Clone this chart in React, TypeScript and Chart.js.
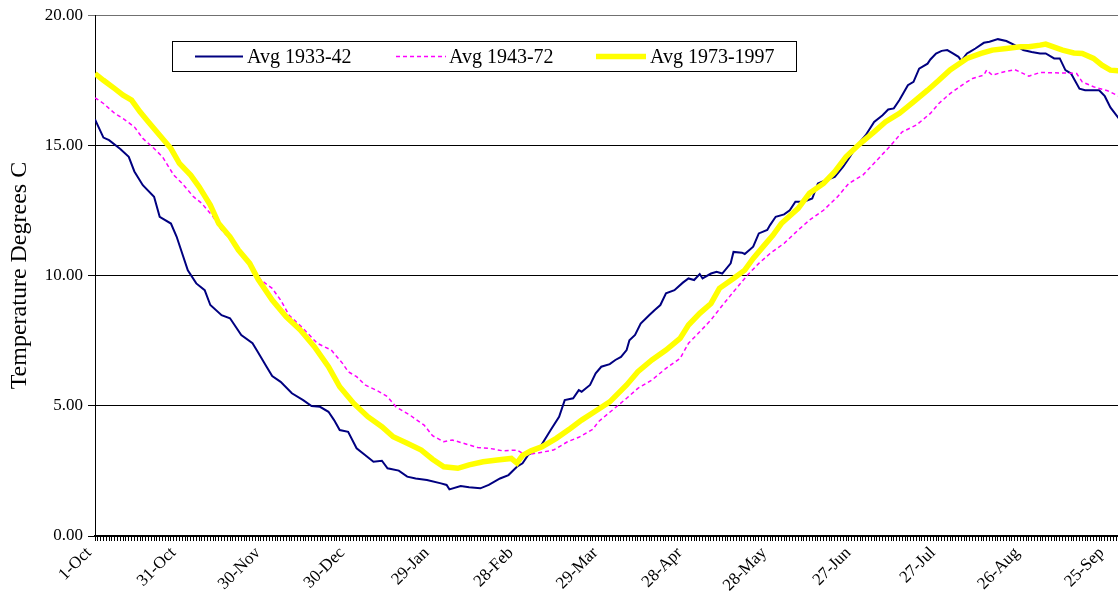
import React, { useEffect, useRef } from "react";
import { Chart, registerables } from "chart.js";

Chart.register(...registerables);

const FONT = "'Liberation Serif', 'Times New Roman', Times, serif";

const tickLabels = ["1-Oct", "31-Oct", "30-Nov", "30-Dec", "29-Jan", "28-Feb", "29-Mar", "28-Apr", "28-May", "27-Jun", "27-Jul", "26-Aug", "25-Sep"];
const seriesNames = ["Avg 1933-42", "Avg 1943-72", "Avg 1973-1997"];
const yTitle = "Temperature Degrees C";

// day index from 1-Oct (0) to 30-Sep (365)
const days1933 = [0, 3, 5, 9, 12, 14, 17, 21, 23, 27, 29, 33, 36, 39, 41, 45, 48, 52, 56, 58, 61, 63, 66, 70, 74, 77, 80, 83, 85, 87, 90, 93, 96, 99, 102, 104, 108, 111, 114, 118, 123, 125, 126, 130, 133, 137, 140, 144, 147, 150, 152, 154, 158, 162, 165, 167, 170, 172, 173, 176, 178, 180, 183, 185, 187, 189, 190, 192, 194, 197, 199, 201, 203, 206, 209, 211, 213, 215, 216, 219, 221, 223, 226, 227, 230, 231, 234, 236, 239, 240, 242, 245, 247, 249, 252, 255, 257, 260, 263, 266, 268, 271, 274, 277, 280, 282, 284, 286, 289, 291, 293, 296, 297, 299, 301, 303, 305, 307, 308, 310, 311, 313, 316, 318, 321, 324, 327, 330, 333, 336, 338, 341, 343, 345, 347, 350, 352, 357, 359, 361, 364];
const temps1933 = [16.0, 15.3, 15.2, 14.86, 14.56, 14.0, 13.47, 13.03, 12.26, 12.0, 11.5, 10.2, 9.7, 9.44, 8.87, 8.48, 8.36, 7.72, 7.4, 7.05, 6.5, 6.14, 5.92, 5.48, 5.22, 4.99, 4.96, 4.77, 4.45, 4.07, 4.0, 3.37, 3.11, 2.85, 2.89, 2.6, 2.51, 2.28, 2.21, 2.15, 2.02, 1.96, 1.79, 1.92, 1.87, 1.83, 1.96, 2.21, 2.34, 2.66, 2.79, 3.11, 3.37, 4.07, 4.58, 5.22, 5.29, 5.6, 5.54, 5.8, 6.25, 6.5, 6.6, 6.76, 6.88, 7.14, 7.52, 7.72, 8.16, 8.48, 8.68, 8.87, 9.32, 9.44, 9.73, 9.89, 9.83, 10.06, 9.89, 10.08, 10.15, 10.08, 10.47, 10.91, 10.88, 10.83, 11.11, 11.62, 11.75, 11.94, 12.26, 12.35, 12.51, 12.84, 12.84, 12.96, 13.54, 13.67, 13.79, 14.18, 14.5, 15.01, 15.39, 15.9, 16.16, 16.38, 16.42, 16.74, 17.31, 17.44, 17.95, 18.14, 18.3, 18.53, 18.63, 18.66, 18.53, 18.4, 18.25, 18.53, 18.59, 18.72, 18.94, 18.98, 19.08, 19.01, 18.85, 18.66, 18.59, 18.53, 18.53, 18.34, 18.34, 17.89, 17.76, 17.18, 17.12, 17.12, 16.89, 16.46, 16.03];

const days1943 = [0, 3, 7, 10, 14, 17, 21, 24, 28, 31, 35, 38, 42, 45, 49, 52, 56, 59, 63, 66, 69, 74, 79, 84, 88, 90, 93, 96, 100, 104, 107, 112, 117, 120, 124, 127, 131, 136, 140, 145, 150, 153, 158, 163, 168, 172, 177, 179, 184, 189, 193, 198, 203, 208, 211, 215, 219, 223, 227, 232, 236, 240, 245, 250, 254, 259, 264, 268, 273, 278, 283, 287, 292, 297, 300, 304, 309, 312, 316, 317, 319, 323, 327, 332, 336, 340, 345, 349, 351, 355, 360, 364];
const temps1943 = [16.83, 16.61, 16.23, 16.03, 15.71, 15.27, 14.88, 14.56, 13.86, 13.54, 13.03, 12.77, 12.26, 11.75, 11.3, 10.85, 10.34, 9.83, 9.51, 9.06, 8.48, 7.97, 7.4, 7.14, 6.63, 6.31, 6.12, 5.8, 5.6, 5.35, 4.96, 4.64, 4.26, 3.85, 3.62, 3.69, 3.56, 3.4, 3.37, 3.27, 3.3, 3.11, 3.2, 3.3, 3.62, 3.79, 4.1, 4.39, 4.84, 5.29, 5.67, 5.99, 6.44, 6.82, 7.4, 7.84, 8.3, 8.85, 9.38, 10.02, 10.47, 10.85, 11.24, 11.75, 12.13, 12.51, 13.03, 13.54, 13.86, 14.43, 15.01, 15.52, 15.78, 16.23, 16.61, 16.99, 17.37, 17.57, 17.7, 17.89, 17.7, 17.82, 17.91, 17.66, 17.8, 17.79, 17.78, 17.76, 17.44, 17.25, 17.1, 16.89];

const days1973 = [0, 3, 7, 10, 13, 16, 19, 23, 27, 30, 34, 37, 41, 44, 48, 51, 55, 58, 63, 68, 73, 78, 83, 87, 92, 97, 102, 106, 111, 116, 120, 124, 129, 133, 138, 143, 148, 150, 152, 155, 159, 164, 169, 173, 178, 183, 189, 193, 198, 203, 208, 211, 215, 219, 222, 227, 231, 234, 238, 241, 244, 250, 254, 259, 263, 267, 272, 277, 281, 286, 291, 296, 300, 304, 310, 315, 319, 324, 329, 332, 336, 338, 340, 344, 348, 351, 355, 358, 361, 364];
const temps1973 = [17.76, 17.5, 17.18, 16.93, 16.74, 16.29, 15.9, 15.39, 14.88, 14.31, 13.86, 13.41, 12.71, 12.0, 11.49, 10.98, 10.47, 9.86, 9.06, 8.42, 7.91, 7.27, 6.5, 5.73, 5.09, 4.58, 4.2, 3.81, 3.56, 3.3, 2.95, 2.66, 2.6, 2.73, 2.85, 2.92, 2.98, 2.8, 3.1, 3.27, 3.43, 3.75, 4.13, 4.45, 4.8, 5.15, 5.8, 6.31, 6.76, 7.14, 7.59, 8.1, 8.55, 8.93, 9.51, 9.89, 10.21, 10.66, 11.17, 11.55, 12.0, 12.58, 13.16, 13.54, 13.99, 14.56, 15.07, 15.52, 15.9, 16.23, 16.67, 17.12, 17.5, 17.9, 18.34, 18.53, 18.66, 18.72, 18.79, 18.79, 18.85, 18.89, 18.81, 18.66, 18.55, 18.53, 18.34, 18.08, 17.89, 17.86];

const toPoints = (d: number[], v: number[]) => d.map((x, i) => ({ x, y: v[i] }));

const boxLegend = {
  id: "boxLegend",
  afterDraw(chart: any) {
    const { ctx, chartArea } = chart;
    const x0 = Math.round(chartArea.left + 77);
    const y0 = Math.round(chartArea.top + 26);
    const w = 624;
    const h = 30;
    ctx.save();
    ctx.fillStyle = "#ffffff";
    ctx.fillRect(x0, y0, w, h);
    ctx.strokeStyle = "#000000";
    ctx.lineWidth = 1;
    ctx.setLineDash([]);
    ctx.strokeRect(x0 + 0.5, y0 + 0.5, w, h);
    const cy = y0 + h / 2 + 0.5;
    const offs = [
      { ls: 23, le: 71, tx: 75 },
      { ls: 224, le: 274, tx: 277 },
      { ls: 424, le: 474, tx: 478 },
    ];
    const dsets = chart.data.datasets;
    offs.forEach((o, i) => {
      const ds = dsets[i];
      ctx.beginPath();
      ctx.strokeStyle = ds.borderColor;
      ctx.lineWidth = ds.borderWidth;
      ctx.setLineDash(ds.borderDash || []);
      ctx.moveTo(x0 + o.ls, cy);
      ctx.lineTo(x0 + o.le, cy);
      ctx.stroke();
      ctx.setLineDash([]);
      ctx.fillStyle = "#000000";
      ctx.font = `20px ${FONT}`;
      ctx.textAlign = "left";
      ctx.textBaseline = "middle";
      ctx.fillText(ds.label, x0 + o.tx, cy + 1);
    });
    ctx.restore();
  },
};

export default function App() {
  const ref = useRef<HTMLCanvasElement | null>(null);

  useEffect(() => {
    if (!ref.current) return;
    const chart = new Chart(ref.current, {
      type: "line",
      data: {
        datasets: [
          {
            label: seriesNames[0],
            data: toPoints(days1933, temps1933),
            borderColor: "#000080",
            backgroundColor: "#000080",
            borderWidth: 2,
            pointRadius: 0,
            tension: 0,
            order: 2,
          },
          {
            label: seriesNames[1],
            data: toPoints(days1943, temps1943),
            borderColor: "#FF00FF",
            backgroundColor: "#FF00FF",
            borderWidth: 1.5,
            borderDash: [4, 3],
            pointRadius: 0,
            tension: 0,
            order: 1,
          },
          {
            label: seriesNames[2],
            data: toPoints(days1973, temps1973),
            borderColor: "#FFFF00",
            backgroundColor: "#FFFF00",
            borderWidth: 5.5,
            pointRadius: 0,
            tension: 0,
            order: 0,
          },
        ],
      },
      options: {
        animation: false,
        responsive: false,
        events: [],
        layout: { padding: { top: 15, right: 0, bottom: 0, left: 0 } },
        plugins: {
          legend: { display: false },
          tooltip: { enabled: false },
        },
        scales: {
          x: {
            type: "linear",
            min: 0,
            max: 363.7,
            grid: { drawOnChartArea: false, drawTicks: true, tickLength: 5, color: "#000", lineWidth: 1 },
            border: { color: "#000", width: 1.5 },
            ticks: {
              stepSize: 1,
              autoSkip: false,
              includeBounds: false,
              maxRotation: 45,
              minRotation: 45,
              padding: 2,
              labelOffset: -6,
              color: "#000",
              font: { family: FONT, size: 17 },
              callback: (v: any) => {
                const n = Number(v);
                const r = Math.round(n);
                if (Math.abs(n - r) < 1e-6 && r % 30 === 0) return tickLabels[r / 30] ?? "";
                return "";
              },
            },
            afterFit: (s: any) => {
              s.height = 70;
              s.paddingRight = 0;
              s.paddingLeft = 0;
            },
          },
          y: {
            min: 0,
            max: 20,
            grid: {
              color: (c: any) => (c.tick && c.tick.value === 20 ? "#707070" : "#000"),
              tickLength: 7,
              lineWidth: 1,
            },
            border: { color: "#000", width: 1 },
            ticks: {
              stepSize: 5,
              padding: 5,
              color: "#000",
              font: { family: FONT, size: 17 },
              callback: (v: any) => Number(v).toFixed(2),
            },
            title: {
              display: true,
              text: yTitle,
              color: "#000",
              font: { family: FONT, size: 24, weight: "normal" },
              padding: { top: 5, bottom: 0 },
            },
            afterFit: (s: any) => {
              s.width = 95;
            },
          },
        },
      },
      plugins: [boxLegend],
    } as any);
    return () => chart.destroy();
  }, []);

  return (
    <div style={{ position: "fixed", left: 0, top: 0, width: 1118, height: 606, overflow: "hidden", background: "#fff" }}>
      <canvas ref={ref} width={1118} height={606} style={{ display: "block" }} />
    </div>
  );
}
